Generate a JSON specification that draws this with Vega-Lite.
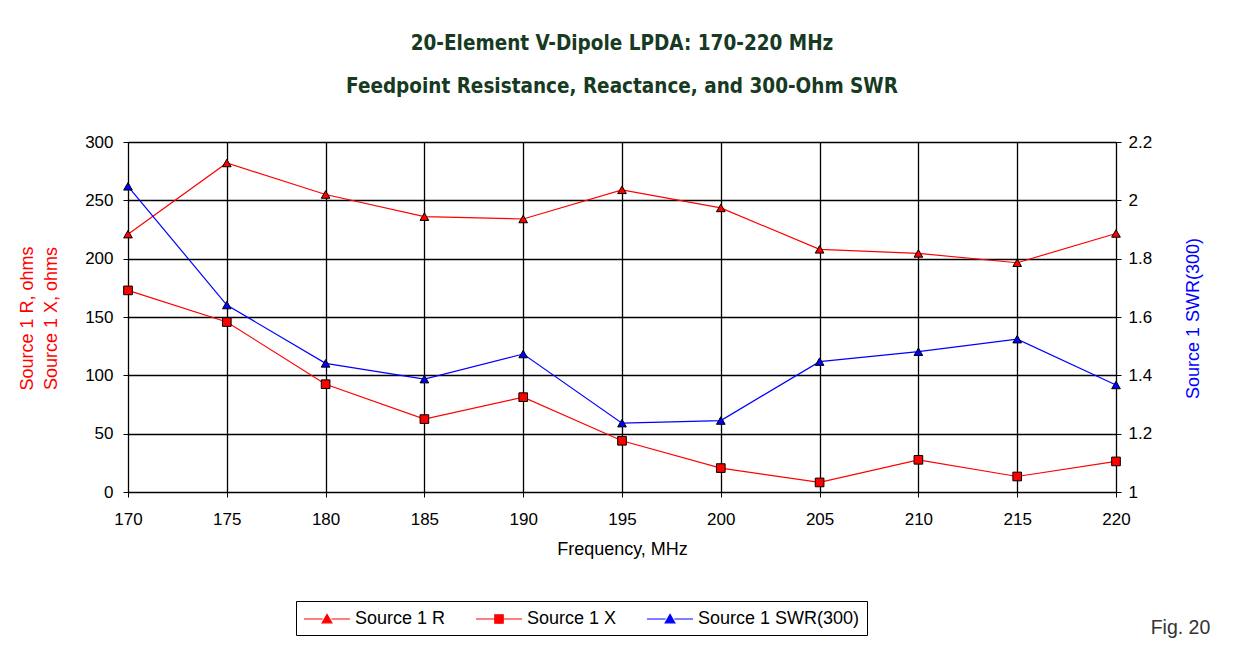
{
  "$schema": "https://vega.github.io/schema/vega-lite/v6.json",
  "width": 988,
  "height": 350,
  "autosize": "none",
  "padding": {"left": 128, "top": 142, "right": 120, "bottom": 157},
  "background": "white",
  "config": {
    "view": {"stroke": "#000", "strokeWidth": 1},
    "font": "Liberation Sans",
    "axis": {
      "labelFont": "Liberation Sans",
      "titleFont": "Liberation Sans",
      "labelFontSize": 17,
      "labelColor": "#000",
      "domainColor": "#000",
      "tickColor": "#000",
      "tickSize": 5,
      "gridColor": "#000",
      "gridOpacity": 1,
      "gridWidth": 1.3,
      "titleFontWeight": "normal"
    }
  },
  "title": {
    "text": "20-Element V-Dipole LPDA: 170-220 MHz",
    "subtitle": "Feedpoint Resistance, Reactance, and 300-Ohm SWR",
    "font": "Liberation Sans Narrow, DejaVu Sans Condensed, Liberation Sans",
    "subtitleFont": "Liberation Sans Narrow, DejaVu Sans Condensed, Liberation Sans",
    "fontSize": 20.5,
    "subtitleFontSize": 20.5,
    "fontWeight": "bold",
    "subtitleFontWeight": "bold",
    "color": "#163a22",
    "subtitleColor": "#163a22",
    "anchor": "middle",
    "frame": "group",
    "subtitlePadding": 22,
    "offset": 36
  },
  "data": {
    "values": [
      {"freq": 170, "series": "Source 1 R", "value": 221},
      {"freq": 175, "series": "Source 1 R", "value": 282},
      {"freq": 180, "series": "Source 1 R", "value": 255},
      {"freq": 185, "series": "Source 1 R", "value": 236},
      {"freq": 190, "series": "Source 1 R", "value": 234},
      {"freq": 195, "series": "Source 1 R", "value": 259},
      {"freq": 200, "series": "Source 1 R", "value": 243.5},
      {"freq": 205, "series": "Source 1 R", "value": 208},
      {"freq": 210, "series": "Source 1 R", "value": 204.5},
      {"freq": 215, "series": "Source 1 R", "value": 196.5},
      {"freq": 220, "series": "Source 1 R", "value": 221.6},
      {"freq": 170, "series": "Source 1 X", "value": 172.8},
      {"freq": 175, "series": "Source 1 X", "value": 145.7},
      {"freq": 180, "series": "Source 1 X", "value": 92.4},
      {"freq": 185, "series": "Source 1 X", "value": 62.5},
      {"freq": 190, "series": "Source 1 X", "value": 81.3},
      {"freq": 195, "series": "Source 1 X", "value": 43.9},
      {"freq": 200, "series": "Source 1 X", "value": 20.5},
      {"freq": 205, "series": "Source 1 X", "value": 8.2},
      {"freq": 210, "series": "Source 1 X", "value": 27.6},
      {"freq": 215, "series": "Source 1 X", "value": 13.3},
      {"freq": 220, "series": "Source 1 X", "value": 26.2},
      {"freq": 170, "series": "Source 1 SWR(300)", "value": 2.048},
      {"freq": 175, "series": "Source 1 SWR(300)", "value": 1.641},
      {"freq": 180, "series": "Source 1 SWR(300)", "value": 1.441},
      {"freq": 185, "series": "Source 1 SWR(300)", "value": 1.387},
      {"freq": 190, "series": "Source 1 SWR(300)", "value": 1.473},
      {"freq": 195, "series": "Source 1 SWR(300)", "value": 1.236},
      {"freq": 200, "series": "Source 1 SWR(300)", "value": 1.245},
      {"freq": 205, "series": "Source 1 SWR(300)", "value": 1.447},
      {"freq": 210, "series": "Source 1 SWR(300)", "value": 1.481},
      {"freq": 215, "series": "Source 1 SWR(300)", "value": 1.524},
      {"freq": 220, "series": "Source 1 SWR(300)", "value": 1.367}
    ]
  },
  "layer": [
    {
      "transform": [{"filter": "datum.series !== 'Source 1 SWR(300)'"}],
      "encoding": {
        "x": {
          "field": "freq",
          "type": "quantitative",
          "scale": {"domain": [170, 220], "nice": false, "zero": false},
          "axis": {
            "values": [170, 175, 180, 185, 190, 195, 200, 205, 210, 215, 220],
            "format": "d",
            "labelPadding": 14,
            "labelFlush": false,
            "title": "Frequency, MHz",
            "titleFontSize": 18,
            "titleColor": "#000",
            "titleBaseline": "middle",
            "titleY": 57,
            "titleX": 494
          }
        },
        "y": {
          "field": "value",
          "type": "quantitative",
          "scale": {"domain": [0, 300], "nice": false, "zero": false},
          "axis": {
            "values": [0, 50, 100, 150, 200, 250, 300],
            "labelPadding": 10,
            "labelFlush": false,
            "title": ["Source 1 R, ohms", "Source 1 X, ohms"],
            "titleColor": "#ff0000",
            "titleFontSize": 18,
            "titleAngle": -90,
            "titleAlign": "center",
            "titleBaseline": "middle",
            "titleLineHeight": 24,
            "titleX": -101,
            "titleY": 176
          }
        },
        "color": {
          "field": "series",
          "type": "nominal",
          "scale": {
            "domain": ["Source 1 R", "Source 1 X", "Source 1 SWR(300)"],
            "range": ["#ff0000", "#ff0000", "#0000ff"]
          },
          "legend": {
            "orient": "none",
            "legendX": 168,
            "legendY": 459,
            "direction": "horizontal",
            "title": null,
            "strokeColor": "#000",
            "fillColor": "#fff",
            "padding": 7,
            "labelFont": "Liberation Sans",
            "labelFontSize": 18,
            "labelColor": "#000",
            "labelLimit": 400,
            "labelOffset": 30,
            "columnPadding": 27,
            "symbolSize": 400,
            "symbolStrokeWidth": 1.2,
            "encode": {
              "symbols": {
                "update": {
                  "shape": {"signal": "datum.value === 'Source 1 X' ? 'M-1,0H0.88M1.72,0H3.6M0.88,-0.42H1.72V0.42H0.88Z' : 'M-1,0H0.86M1.74,0H3.6M1.3,-0.46L1.78,0.38L0.82,0.38Z'"},
                  "fill": {"scale": "color", "field": "value"},
                  "stroke": {"scale": "color", "field": "value"},
                  "opacity": {"value": 1}
                }
              }
            }
          }
        }
      },
      "layer": [
        {"mark": {"type": "line", "strokeWidth": 1.2}},
        {
          "mark": {"type": "point", "filled": true, "size": 75, "stroke": "#000", "strokeWidth": 1, "opacity": 1},
          "encoding": {
            "shape": {
              "field": "series",
              "type": "nominal",
              "scale": {
                "domain": ["Source 1 X", "Source 1 R", "Source 1 SWR(300)"],
                "range": ["square", "triangle-up", "triangle-up"]
              },
              "legend": null
            }
          }
        }
      ]
    },
    {
      "transform": [{"filter": "datum.series === 'Source 1 SWR(300)'"}],
      "encoding": {
        "x": {
          "field": "freq",
          "type": "quantitative",
          "scale": {"domain": [170, 220], "nice": false, "zero": false},
          "axis": {
            "orient": "bottom",
            "labels": false,
            "ticks": false,
            "domain": false,
            "grid": false,
            "title": "Fig. 20",
            "titleFontSize": 19.5,
            "titleColor": "#333333",
            "titleAlign": "center",
            "titleBaseline": "middle",
            "titleX": 1052,
            "titleY": 135
          }
        },
        "y": {
          "field": "value",
          "type": "quantitative",
          "scale": {"domain": [1, 2.2], "nice": false, "zero": false},
          "axis": {
            "orient": "right",
            "values": [1, 1.2, 1.4, 1.6, 1.8, 2, 2.2],
            "format": "~g",
            "grid": false,
            "labelPadding": 7,
            "labelFlush": false,
            "title": "Source 1 SWR(300)",
            "titleColor": "#0000ff",
            "titleFontSize": 18,
            "titleAngle": -90,
            "titleAlign": "center",
            "titleBaseline": "middle",
            "titleX": 77,
            "titleY": 176
          }
        },
        "color": {"field": "series", "type": "nominal"}
      },
      "layer": [
        {"mark": {"type": "line", "strokeWidth": 1.2}},
        {
          "mark": {"type": "point", "filled": true, "size": 75, "stroke": "#000", "strokeWidth": 1, "opacity": 1},
          "encoding": {
            "shape": {"field": "series", "type": "nominal", "legend": null}
          }
        }
      ]
    }
  ],
  "resolve": {
    "scale": {"y": "independent"},
    "axis": {"x": "independent", "y": "independent"}
  }
}
